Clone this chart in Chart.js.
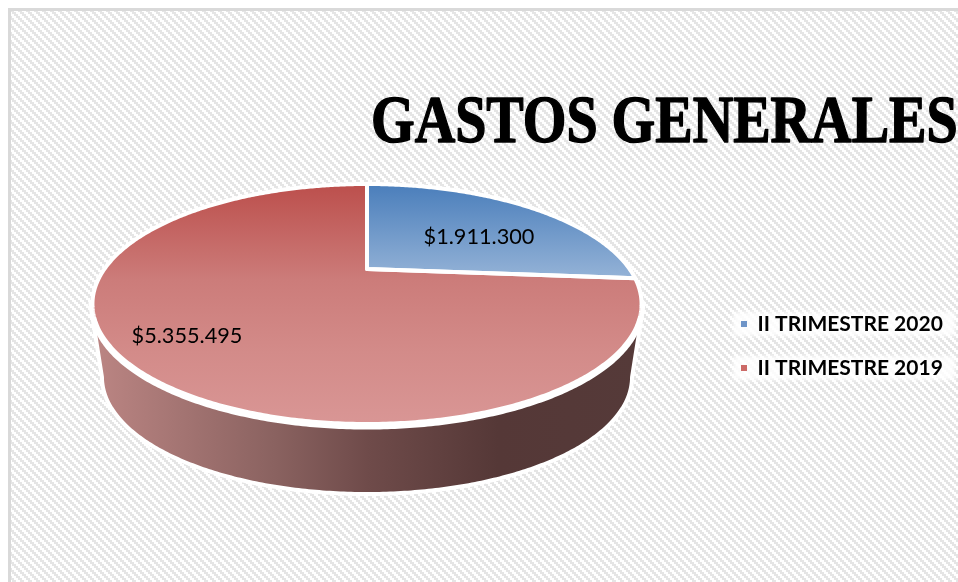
<!DOCTYPE html>
<html>
<head>
<meta charset="utf-8">
<title>Gastos generales</title>
<script src="https://cdn.jsdelivr.net/npm/chart.js@4"></script>
<style>
  html, body { margin: 0; padding: 0; background: #fff; overflow: hidden; }
  #wrap { position: relative; width: 958px; height: 582px; }
</style>
</head>
<body>
<div id="wrap"><canvas id="gastosChart" width="958" height="582"></canvas></div>
<script>
  const chartTitle = 'GASTOS GENERALES';
  const categories = ['II TRIMESTRE 2020', 'II TRIMESTRE 2019'];
  const gastos = [1911300, 5355495];

  // Perspective of the tilted disc: K is the foreshortening towards the viewer
  const K = 0.2917;
  const CX = 367;
  const topRim = { a: 262.6, b: 109.8, y: 269 };
  const lowRim = { a: 251.6, b: 105.2, y: 343.5 };

  // Where the value labels sit
  const labelSpots = [[479, 237], [187, 336]];

  function project(theta, r, rim) {
    const u = r * Math.sin(theta);
    const v = -r * Math.cos(theta);
    const w = 1 - K * v;
    return [CX + rim.a * u / w, rim.y + rim.b * v / w];
  }

  function traceRim(ctx, from, to, rim) {
    const steps = Math.ceil(Math.abs(to - from) / 0.01);
    for (let i = 0; i <= steps; i++) {
      const p = project(from + (to - from) * i / steps, 1, rim);
      ctx.lineTo(p[0], p[1]);
    }
  }

  function money(v) {
    return '$' + String(v).replace(/\B(?=(\d{3})+$)/g, '.');
  }

  // Small diagonal hatch tile for the chart background
  function hatchTile(ctx) {
    const tile = document.createElement('canvas');
    tile.width = tile.height = 8;
    const t = tile.getContext('2d');
    t.fillStyle = '#fff';
    t.fillRect(0, 0, 8, 8);
    t.fillStyle = '#e5e5e5';
    for (let y = 0; y < 8; y++) {
      for (let x = 0; x < 8; x++) {
        if ((((x >> 1) - (y >> 1)) % 4 + 4) % 4 < 2) t.fillRect(x, y, 1, 1);
      }
    }
    return ctx.createPattern(tile, 'repeat');
  }

  const background = {
    id: 'background',
    beforeDraw(chart) {
      const ctx = chart.ctx;
      ctx.save();
      ctx.fillStyle = '#fff';
      ctx.fillRect(0, 0, 958, 582);
      ctx.fillStyle = hatchTile(ctx);
      ctx.fillRect(9, 9, 949, 573);
      ctx.strokeStyle = '#d9d9d9';
      ctx.lineWidth = 3;
      ctx.beginPath();
      ctx.moveTo(9.5, 582);
      ctx.lineTo(9.5, 9.5);
      ctx.lineTo(958, 9.5);
      ctx.stroke();

      // soft white patches behind the legend rows
      ctx.fillStyle = 'rgba(255,255,255,0.85)';
      ctx.filter = 'blur(2px)';
      ctx.fillRect(733, 312, 222, 24);
      ctx.fillRect(733, 356, 222, 24);
      ctx.filter = 'none';
      ctx.restore();
    },
    // move the legend to its own spot once the layout is done
    afterLayout(chart) {
      const lg = chart.legend;
      const h = lg.height;
      const w = lg.width;
      lg.left = 718;
      lg.right = lg.left + w;
      lg.top = 290.5;
      lg.bottom = lg.top + h;
    }
  };

  const disc = {
    id: 'disc',
    // the library works out the slice angles, the disc is drawn tilted from them
    beforeDatasetDraw(chart, args) {
      const ctx = chart.ctx;
      const arcs = args.meta.data;
      const thetaR = Math.acos(-K);
      const thetaL = 2 * Math.PI - thetaR;

      ctx.save();
      ctx.lineJoin = 'round';

      // side wall, white halo first so it stays outside the fill
      const wall = ctx.createLinearGradient(95, 0, 640, 0);
      wall.addColorStop(0, '#bb8583');
      wall.addColorStop(0.33, '#8a6260');
      wall.addColorStop(0.5, '#6f4b4a');
      wall.addColorStop(0.74, '#553837');
      wall.addColorStop(1, '#553a39');
      ctx.beginPath();
      let p = project(thetaR, 1, topRim);
      ctx.moveTo(p[0], p[1]);
      traceRim(ctx, thetaR, thetaL, lowRim);
      p = project(thetaL, 1, topRim);
      ctx.lineTo(p[0], p[1]);
      ctx.closePath();
      ctx.strokeStyle = '#fff';
      ctx.lineWidth = 8;
      ctx.stroke();
      ctx.fillStyle = wall;
      ctx.fill();

      // thicker white lip along the front of the top face
      ctx.save();
      ctx.translate(0, 2.5);
      ctx.beginPath();
      traceRim(ctx, thetaR, thetaL, topRim);
      ctx.lineWidth = 6;
      ctx.stroke();
      ctx.restore();

      // top face
      const faces = [
        { y0: 184, y1: 279, stops: [[0, '#4a7ebb'], [1, '#95b3d7']] },
        { y0: 184, y1: 424, stops: [[0, '#bc4f4c'], [0.4, '#cc7c7a'], [0.7, '#d38b89'], [1, '#d99695']] }
      ];
      arcs.forEach((arc, i) => {
        const from = arc.startAngle + Math.PI / 2;
        const to = arc.endAngle + Math.PI / 2;
        const fill = ctx.createLinearGradient(0, faces[i].y0, 0, faces[i].y1);
        faces[i].stops.forEach(s => fill.addColorStop(s[0], s[1]));
        ctx.beginPath();
        ctx.moveTo(CX, topRim.y);
        traceRim(ctx, from, to, topRim);
        ctx.closePath();
        ctx.fillStyle = fill;
        ctx.fill();
      });
      arcs.forEach(arc => {
        const from = arc.startAngle + Math.PI / 2;
        const to = arc.endAngle + Math.PI / 2;
        ctx.beginPath();
        ctx.moveTo(CX, topRim.y);
        traceRim(ctx, from, to, topRim);
        ctx.closePath();
        ctx.strokeStyle = '#fff';
        ctx.lineWidth = 4;
        ctx.stroke();
      });

      // value labels
      ctx.fillStyle = '#000';
      ctx.font = '21.7px Lato';
      ctx.textAlign = 'center';
      ctx.textBaseline = 'middle';
      gastos.forEach((v, i) => {
        ctx.fillText(money(v), labelSpots[i][0], labelSpots[i][1]);
      });
      ctx.restore();
      return false;
    },
    afterDraw(chart) {
      // heavy condensed serif heading, runs off the right edge
      const ctx = chart.ctx;
      ctx.save();
      ctx.translate(371, 142);
      ctx.scale(0.825, 1);
      ctx.font = 'bold 68px "Liberation Serif"';
      ctx.textBaseline = 'alphabetic';
      ctx.fillStyle = '#000';
      ctx.strokeStyle = '#000';
      ctx.lineWidth = 1.5;
      ctx.lineJoin = 'round';
      ctx.fillText(chartTitle, 0, 0);
      ctx.strokeText(chartTitle, 0, 0);
      ctx.restore();
    }
  };

  new Chart(document.getElementById('gastosChart'), {
    type: 'pie',
    data: {
      labels: categories,
      datasets: [{
        data: gastos,
        backgroundColor: ['#6f95c8', '#cc6a67'],
        borderWidth: 0
      }]
    },
    options: {
      responsive: false,
      animation: false,
      events: [],
      plugins: {
        tooltip: { enabled: false },
        title: { display: false },
        legend: {
          position: 'right',
          align: 'start',
          labels: {
            boxWidth: 6,
            boxHeight: 6,
            padding: 23,
            color: '#000',
            font: { family: 'Lato', size: 21, weight: 'bold' }
          }
        }
      }
    },
    plugins: [background, disc]
  });
</script>
</body>
</html>
